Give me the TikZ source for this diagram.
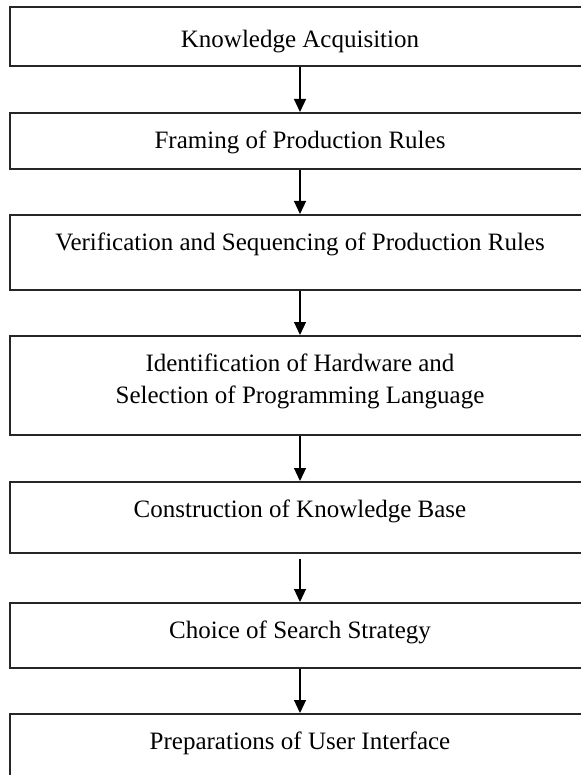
\documentclass[tikz,border=0pt]{standalone}
\usepackage{fontspec}
\setmainfont{Liberation Serif}
\usetikzlibrary{positioning, arrows.meta}

\tikzset{
stepbox/.style={draw=black!85, line width=1.6pt, anchor=north, minimum width=580pt,
  inner ysep=10pt, text height=25.5pt, align=center, font=\fontsize{25}{32}\selectfont},
flow/.style={line width=1.2pt, -{Triangle[width=12pt,length=13pt]}}
}

\begin{document}
\begin{tikzpicture}[x=1pt, y=1pt]
\useasboundingbox (0,0) rectangle (580,-775);
\node[stepbox, text height=31pt, text depth=8pt] (acq) at (300,-6) {Knowledge Acquisition};
\node[stepbox, text depth=10.5pt] (fram) at (300,-112) {Framing of Production Rules};
\node[stepbox, text depth=29.5pt] (veri) at (300,-214) {Verification and Sequencing of Production Rules};
\node[stepbox, text height=57.5pt, text depth=21.5pt] (hard) at (300,-335) {Identification of Hardware and\\Selection of Programming Language};
\node[stepbox, text depth=25.5pt] (kbase) at (300,-481) {Construction of Knowledge Base};
\node[stepbox, text depth=19.5pt] (search) at (300,-602) {Choice of Search Strategy};
\node[stepbox, text depth=24.5pt] (ui) at (300,-713) {Preparations of User Interface};
\draw[flow] (acq) -- (fram);
\draw[flow] (fram) -- (veri);
\draw[flow] (veri) -- (hard);
\draw[flow] (hard) -- (kbase);
\draw[flow, shorten <=5pt] (kbase) -- (search);
\draw[flow] (search) -- (ui);
\end{tikzpicture}
\end{document}
